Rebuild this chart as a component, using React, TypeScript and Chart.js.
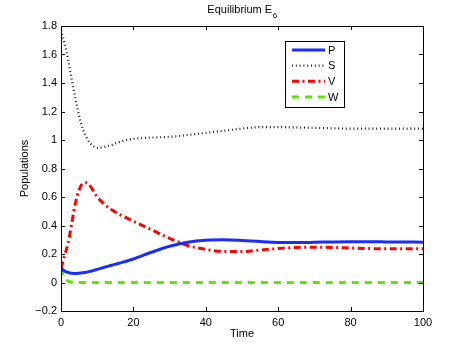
import React, { useEffect, useRef } from "react";
import { Chart, registerables } from "chart.js";

Chart.register(...registerables);

const time = [0, 1, 2, 3, 4, 5, 6, 7, 8, 9, 10, 12, 14, 16, 18, 20, 25, 30, 35, 40, 45, 50, 55, 60, 65, 70, 75, 80, 85, 90, 95, 100];
const P = [0.10, 0.08, 0.07, 0.065, 0.064, 0.065, 0.068, 0.072, 0.078, 0.085, 0.092, 0.107, 0.121, 0.135, 0.149, 0.165, 0.212, 0.254, 0.283, 0.297, 0.3, 0.295, 0.287, 0.281, 0.28, 0.282, 0.285, 0.286, 0.286, 0.285, 0.284, 0.283];
const S = [1.77, 1.68, 1.56, 1.42, 1.29, 1.17, 1.08, 1.02, 0.98, 0.955, 0.945, 0.952, 0.965, 0.985, 1.0, 1.008, 1.017, 1.022, 1.035, 1.05, 1.065, 1.08, 1.09, 1.09, 1.088, 1.085, 1.082, 1.08, 1.08, 1.08, 1.08, 1.08];
const V = [0.10, 0.19, 0.28, 0.42, 0.56, 0.65, 0.695, 0.70, 0.68, 0.64, 0.60, 0.55, 0.51, 0.48, 0.455, 0.43, 0.37, 0.31, 0.26, 0.232, 0.218, 0.217, 0.228, 0.238, 0.246, 0.248, 0.246, 0.242, 0.238, 0.236, 0.236, 0.236];
const W = [0.10, 0.03, 0.01, 0.003, 0.001, 0, 0, 0, 0, 0, 0, 0, 0, 0, 0, 0, 0, 0, 0, 0, 0, 0, 0, 0, 0, 0, 0, 0, 0, 0, 0, 0];
const seriesNames = ["P", "S", "V", "W"];
const titleMain = "Equilibrium E";
const titleSub = "6";
const xTitle = "Time";
const yTitle = "Populations";

const FONT = "'Liberation Sans', Arial, Helvetica, sans-serif";

const toPts = (arr: number[]) => arr.map((y, i) => ({ x: time[i], y }));

const decorPlugin = {
  id: "decor",
  afterDatasetsDraw(chart: any) {
    const { ctx, chartArea: a, scales } = chart;
    const xs = scales.x;
    const ys = scales.y;
    ctx.save();
    ctx.strokeStyle = "#000";
    ctx.lineWidth = 1;
    ctx.strokeRect(Math.round(a.left) + 0.5, Math.round(a.top) + 0.5, Math.round(a.right - a.left), Math.round(a.bottom - a.top));
    const tl = 4;
    ctx.beginPath();
    xs.ticks.forEach((t: any) => {
      const px = Math.round(xs.getPixelForValue(t.value)) + 0.5;
      ctx.moveTo(px, a.bottom);
      ctx.lineTo(px, a.bottom - tl);
      ctx.moveTo(px, a.top);
      ctx.lineTo(px, a.top + tl);
    });
    ys.ticks.forEach((t: any) => {
      const py = Math.round(ys.getPixelForValue(t.value)) + 0.5;
      ctx.moveTo(a.left, py);
      ctx.lineTo(a.left + tl, py);
      ctx.moveTo(a.right, py);
      ctx.lineTo(a.right - tl, py);
    });
    ctx.stroke();

    ctx.fillStyle = "#000";
    ctx.font = `11px ${FONT}`;
    const w1 = ctx.measureText(titleMain).width;
    ctx.font = `8px ${FONT}`;
    const w2 = ctx.measureText(titleSub).width;
    const cx = (a.left + a.right) / 2;
    const sx = cx - (w1 + w2) / 2;
    ctx.textBaseline = "alphabetic";
    ctx.textAlign = "left";
    ctx.font = `11px ${FONT}`;
    ctx.fillText(titleMain, sx, 13);
    ctx.font = `8px ${FONT}`;
    ctx.fillText(titleSub, sx + w1 + 0.5, 17.5);

    const lx = 285, ly = 41, lw = 59, lh = 66;
    ctx.fillStyle = "#fff";
    ctx.fillRect(lx, ly, lw, lh);
    ctx.strokeStyle = "#000";
    ctx.lineWidth = 1;
    ctx.strokeRect(lx + 0.5, ly + 0.5, lw, lh);
    const rows = [50, 65.7, 81.3, 97];
    chart.data.datasets.forEach((ds: any, i: number) => {
      const y = rows[i];
      ctx.save();
      ctx.strokeStyle = ds.borderColor;
      ctx.lineWidth = ds.borderWidth;
      ctx.setLineDash(ds.borderDash || []);
      ctx.beginPath();
      ctx.moveTo(292, y);
      ctx.lineTo(325, y);
      ctx.stroke();
      ctx.restore();
      ctx.fillStyle = "#000";
      ctx.font = `11px ${FONT}`;
      ctx.textBaseline = "middle";
      ctx.textAlign = "left";
      ctx.fillText(ds.label, 328, y + 0.5);
    });
    ctx.restore();
  },
};

export default function App() {
  const ref = useRef<HTMLCanvasElement | null>(null);
  useEffect(() => {
    document.body.style.margin = "0";
    const canvas = ref.current!;
    const fmt = (v: number) => {
      const r = Math.round(v * 10) / 10;
      if (Math.abs(r) < 1e-9) return "0";
      const s = String(Math.abs(r));
      return r < 0 ? "\u2212" + s : s;
    };
    const chart = new Chart(canvas, {
      type: "line",
      data: {
        datasets: [
          { label: seriesNames[0], data: toPts(P), borderColor: "rgb(25,45,255)", borderWidth: 3, pointRadius: 0, cubicInterpolationMode: "monotone", fill: false },
          { label: seriesNames[1], data: toPts(S), borderColor: "#222", borderWidth: 2.2, borderDash: [1, 2.8], pointRadius: 0, cubicInterpolationMode: "monotone", fill: false },
          { label: seriesNames[2], data: toPts(V), borderColor: "#ff0000", borderWidth: 3, borderDash: [7, 3.5, 2, 3.5], pointRadius: 0, cubicInterpolationMode: "monotone", fill: false },
          { label: seriesNames[3], data: toPts(W), borderColor: "#5ee800", borderWidth: 3, borderDash: [7, 6], pointRadius: 0, cubicInterpolationMode: "monotone", fill: false },
        ],
      },
      options: {
        responsive: false,
        animation: false,
        devicePixelRatio: 1,
        layout: { padding: { top: 26, right: 44, left: 0, bottom: 0 } },
        plugins: { legend: { display: false }, title: { display: false }, tooltip: { enabled: false } },
        scales: {
          x: {
            type: "linear",
            min: 0,
            max: 100,
            grid: { display: false, drawTicks: false },
            border: { display: false },
            ticks: { stepSize: 20, color: "#000", padding: 5, font: { family: FONT, size: 11 }, maxRotation: 0 },
            title: { display: true, text: xTitle, color: "#000", font: { family: FONT, size: 11 }, padding: { top: 0, bottom: 10 } },
            afterFit: (s: any) => { s.height = 40; },
          },
          y: {
            type: "linear",
            min: -0.2,
            max: 1.8,
            grid: { display: false, drawTicks: false },
            border: { display: false },
            ticks: { stepSize: 0.2, color: "#000", padding: 4, font: { family: FONT, size: 11 }, callback: (v: any) => fmt(Number(v)) },
            title: { display: true, text: yTitle, color: "#000", font: { family: FONT, size: 11 }, padding: { top: 18, bottom: 0 } },
            afterFit: (s: any) => { s.width = 61; },
          },
        },
      },
      plugins: [decorPlugin],
    } as any);
    return () => chart.destroy();
  }, []);
  return (
    <div style={{ width: 467, height: 351, background: "#fff" }}>
      <canvas ref={ref} width={467} height={351} style={{ display: "block" }} />
    </div>
  );
}
